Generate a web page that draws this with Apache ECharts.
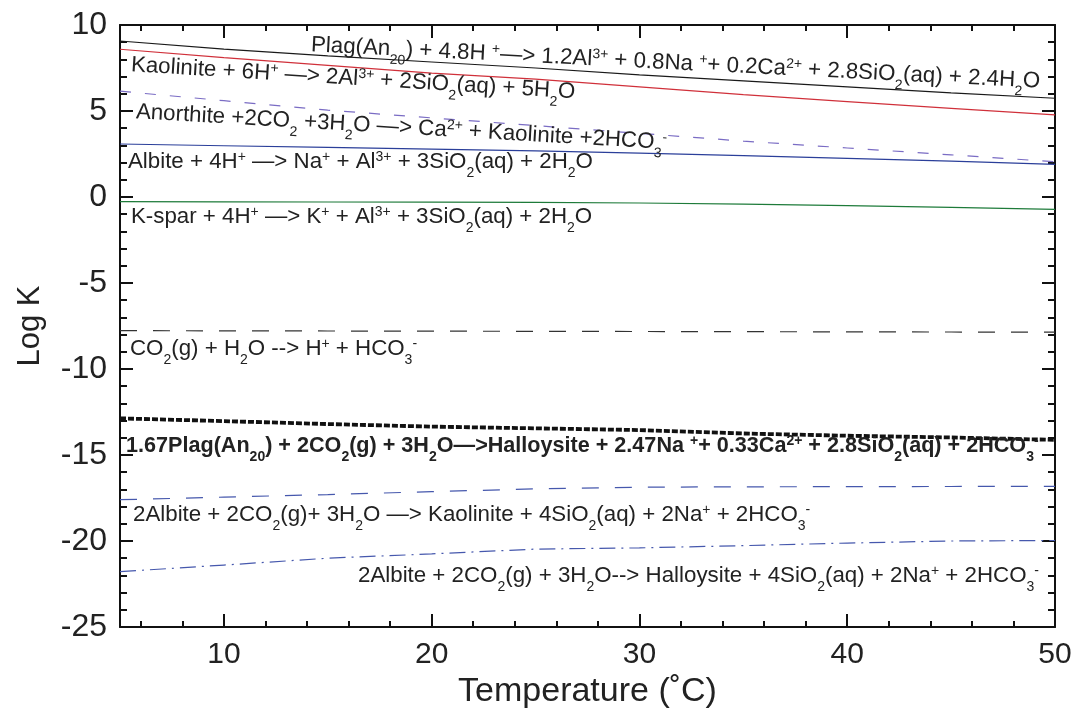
<!DOCTYPE html>
<html>
<head>
<meta charset="utf-8">
<script src="https://cdn.jsdelivr.net/npm/echarts@6/dist/echarts.min.js"></script>
<style>
  html, body { margin: 0; padding: 0; background: #fff; }
  #main { width: 1079px; height: 717px; }
</style>
</head>
<body>
<div id="main"></div>
<script>
// temperature grid (deg C) shared by all curves
const temps = [5, 10, 15, 20, 25, 30, 35, 40, 45, 50];

// log K values
const plagH      = [9.07, 8.6, 8.2, 7.85, 7.5, 7.1, 6.75, 6.4, 6.05, 5.74];
const kaoliniteH = [8.59, 8.1, 7.65, 7.2, 6.85, 6.4, 5.95, 5.55, 5.15, 4.77];
const anorthite  = [6.15, 5.6, 5.05, 4.6, 4.15, 3.7, 3.25, 2.85, 2.45, 2.05];
const albiteH    = [3.08, 2.98, 2.88, 2.78, 2.68, 2.55, 2.4, 2.25, 2.08, 1.9];
const ksparH     = [-0.27, -0.28, -0.29, -0.3, -0.31, -0.35, -0.42, -0.5, -0.6, -0.72];
const co2        = [-7.77, -7.78, -7.79, -7.8, -7.81, -7.82, -7.83, -7.84, -7.85, -7.86];
const plagHalloy = [-12.87, -13.03, -13.2, -13.35, -13.45, -13.55, -13.75, -13.88, -13.98, -14.12];
const albiteKaol = [-17.6, -17.45, -17.3, -17.13, -16.97, -16.87, -16.85, -16.84, -16.83, -16.82];
const albiteHall = [-21.78, -21.4, -21.0, -20.75, -20.47, -20.4, -20.27, -20.12, -20.0, -19.97];

// axis ticks
const xMajor = [10, 20, 30, 40, 50];
const xMinor = [6, 8, 12, 14, 16, 18, 22, 24, 26, 28, 32, 34, 36, 38, 42, 44, 46, 48];

// reaction labels (rich text)
const labels = [
  'Plag(An{sub|20}) + 4.8H {sup|+}—> 1.2Al{sup|3+} + 0.8Na {sup|+}+ 0.2Ca{sup|2+} + 2.8SiO{sub|2}(aq) + 2.4H{sub|2}O',
  'Kaolinite + 6H{sup|+} —> 2Al{sup|3+} + 2SiO{sub|2}(aq) + 5H{sub|2}O',
  'Anorthite +2CO{sub|2} +3H{sub|2}O —> Ca{sup|2+} + Kaolinite +2HCO{sub|3}{sup|-}',
  'Albite + 4H{sup|+} —> Na{sup|+} + Al{sup|3+} + 3SiO{sub|2}(aq) + 2H{sub|2}O',
  'K-spar + 4H{sup|+} —> K{sup|+} + Al{sup|3+} + 3SiO{sub|2}(aq) + 2H{sub|2}O',
  'CO{sub|2}(g) + H{sub|2}O --> H{sup|+} + HCO{sub|3}{sup|-}',
  '1.67Plag(An{sub|20}) + 2CO{sub|2}(g) + 3H{sub|2}O—>Halloysite + 2.47Na {sup|+}+ 0.33Ca{sup|2+} + 2.8SiO{sub|2}(aq) + 2HCO{sub|3}{sup|-}',
  '2Albite + 2CO{sub|2}(g)+ 3H{sub|2}O —> Kaolinite + 4SiO{sub|2}(aq) + 2Na{sup|+} + 2HCO{sub|3}{sup|-}',
  '2Albite + 2CO{sub|2}(g) + 3H{sub|2}O--> Halloysite + 4SiO{sub|2}(aq) + 2Na{sup|+} + 2HCO{sub|3}{sup|-}'
];

const FONT = "'Liberation Sans', Arial, Helvetica, sans-serif";
const TXT = '#222';

function pairs(vals) {
  return temps.map((t, i) => [t, vals[i]]);
}

function line(vals, color, width, type) {
  return {
    type: 'line',
    data: pairs(vals),
    showSymbol: false,
    symbol: 'none',
    silent: true,
    animation: false,
    lineStyle: { color: color, width: width, type: type || 'solid', cap: 'butt' }
  };
}

function richFor(weight) {
  return {
    sub: { fontSize: 14, fontFamily: FONT, fontWeight: weight, fill: TXT, color: TXT, verticalAlign: 'bottom', lineHeight: 14 },
    sup: { fontSize: 14, fontFamily: FONT, fontWeight: weight, fill: TXT, color: TXT, verticalAlign: 'top', height: 26, lineHeight: 26 }
  };
}

// label placement: [x, y, rotation, bold, fontSize]
const place = [
  [311, 45, -0.050, false, 22.3],
  [131, 65, -0.061, false, 22.3],
  [136, 112, -0.058, false, 22.3],
  [128, 162, 0, false, 22.3],
  [131, 217, 0, false, 22.3],
  [130, 349, 0, false, 22.3],
  [126, 446, 0, true, 21.6],
  [133, 515, 0, false, 22.3],
  [358, 576, 0, false, 22.3]
];

const graphics = labels.map((t, i) => {
  const p = place[i];
  const w = p[3] ? 'bold' : 'normal';
  return {
    type: 'text',
    x: p[0],
    y: p[1],
    rotation: p[2],
    z: 10,
    style: {
      text: t,
      fontSize: p[4],
      fontFamily: FONT,
      fontWeight: w,
      fill: TXT,
      lineHeight: 36,
      textAlign: 'left',
      textVerticalAlign: 'middle',
      align: 'left',
      verticalAlign: 'middle',
      rich: richFor(w)
    }
  };
});

const axisLine = { show: true, onZero: false, lineStyle: { color: '#111', width: 2 } };
const tickStyle = { color: '#111', width: 2 };

const chart = echarts.init(document.getElementById('main'), null, { renderer: 'canvas' });
chart.setOption({
  animation: false,
  backgroundColor: '#fff',
  grid: { left: 120, top: 25, right: 24, bottom: 90, containLabel: false },
  xAxis: [
    {
      type: 'value', position: 'bottom', min: 5, max: 50,
      name: 'Temperature (˚C)', nameLocation: 'middle', nameGap: 34,
      nameTextStyle: { fontSize: 34, fontFamily: FONT, color: TXT },
      axisLine: axisLine,
      axisTick: { show: true, inside: true, length: 13, customValues: xMajor, lineStyle: tickStyle },
      axisLabel: { show: true, customValues: xMajor, fontSize: 30, fontFamily: FONT, color: TXT, margin: 13 },
      splitLine: { show: false }
    },
    {
      type: 'value', position: 'bottom', min: 5, max: 50,
      axisLine: { show: false, onZero: false },
      axisTick: { show: true, inside: true, length: 6, customValues: xMinor, lineStyle: tickStyle },
      axisLabel: { show: false },
      splitLine: { show: false }
    },
    {
      type: 'value', position: 'top', min: 5, max: 50,
      axisLine: axisLine,
      axisTick: { show: true, inside: true, length: 13, customValues: xMajor, lineStyle: tickStyle },
      axisLabel: { show: false },
      splitLine: { show: false }
    },
    {
      type: 'value', position: 'top', min: 5, max: 50,
      axisLine: { show: false, onZero: false },
      axisTick: { show: true, inside: true, length: 6, customValues: xMinor, lineStyle: tickStyle },
      axisLabel: { show: false },
      splitLine: { show: false }
    }
  ],
  yAxis: [
    {
      type: 'value', position: 'left', min: -25, max: 10, interval: 5,
      name: 'Log K', nameLocation: 'middle', nameGap: 74,
      nameTextStyle: { fontSize: 31, fontFamily: FONT, color: TXT },
      axisLine: axisLine,
      axisTick: { show: true, inside: true, length: 13, lineStyle: tickStyle },
      minorTick: { show: true, splitNumber: 5, length: 7, lineStyle: tickStyle },
      axisLabel: { fontSize: 32, fontFamily: FONT, color: TXT, margin: 13 },
      splitLine: { show: false }
    },
    {
      type: 'value', position: 'right', min: -25, max: 10, interval: 5,
      axisLine: axisLine,
      axisTick: { show: true, inside: true, length: 13, lineStyle: tickStyle },
      minorTick: { show: true, splitNumber: 5, length: 7, lineStyle: tickStyle },
      axisLabel: { show: false },
      splitLine: { show: false }
    }
  ],
  series: [
    line(plagH, '#1a1a1a', 1.2),
    line(kaoliniteH, '#d0303a', 1.2),
    line(anorthite, '#7a6cc4', 1.2, [11, 14]),
    line(albiteH, '#2b3f9a', 1.2),
    line(ksparH, '#1e7b3a', 1.2),
    line(co2, '#333', 1.2, [17, 16]),
    line(plagHalloy, '#111', 3.8, [6, 2]),
    line(albiteKaol, '#4658ad', 1.2, [17, 16]),
    line(albiteHall, '#4658ad', 1.2, [16, 6, 2, 6])
  ],
  graphic: graphics
});
</script>
</body>
</html>
